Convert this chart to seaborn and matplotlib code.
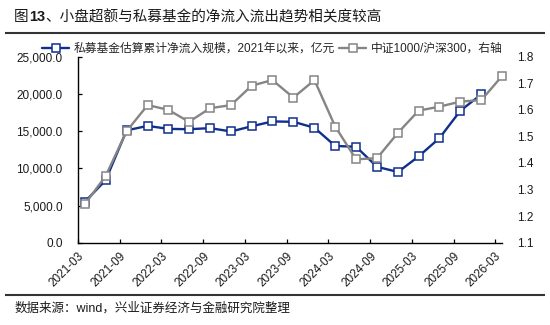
import matplotlib
matplotlib.use("Agg")
import matplotlib.pyplot as plt
import seaborn as sns
import pandas as pd
from matplotlib.lines import Line2D
from matplotlib.ticker import FuncFormatter, MultipleLocator

# ---- data ----
dates = ["2021-03-31", "2021-06-30", "2021-09-30", "2021-12-31",
         "2022-03-31", "2022-06-30", "2022-09-30", "2022-12-31",
         "2023-03-31", "2023-06-30", "2023-09-30", "2023-12-31",
         "2024-03-31", "2024-06-30", "2024-09-30", "2024-12-31",
         "2025-03-31", "2025-06-30", "2025-09-30", "2025-12-31",
         "2026-03-31"]
flow = [5500, 8400, 15100, 15700, 15300, 15250, 15400, 14950, 15650, 16300,
        16250, 15450, 13000, 12900, 10200, 9500, 11600, 14050, 17750, 19950]
ratio = [1.245, 1.351, 1.520, 1.618, 1.600, 1.555, 1.606, 1.618, 1.691, 1.712,
         1.646, 1.712, 1.537, 1.414, 1.418, 1.514, 1.597, 1.612, 1.631, 1.637,
         1.727]
tick_labels = ["2021-03", "2021-09", "2022-03", "2022-09", "2023-03", "2023-09",
               "2024-03", "2024-09", "2025-03", "2025-09", "2026-03"]
label_flow = "私募基金估算累计净流入规模，2021年以来，亿元"
label_ratio = "中证1000/沪深300，右轴"

BLUE = "#0F2F8C"
GRAY = "#858585"
TXT = "#1a1a1a"

sns.set_style("white")
plt.rcParams["font.family"] = ["Liberation Sans", "Noto Sans CJK SC", "DejaVu Sans"]

df1 = pd.DataFrame({"date": pd.to_datetime(dates[:len(flow)]), "flow": flow})
df2 = pd.DataFrame({"date": pd.to_datetime(dates), "ratio": ratio})

W, H = 550, 325
fig = plt.figure(figsize=(W / 100, H / 100), dpi=100)
ax = fig.add_axes([78 / W, 1 - 242.7 / H, (502 - 78) / W, (242.7 - 56.7) / H])
ax2 = ax.twinx()

MS = 6.0
sns.lineplot(data=df1, x="date", y="flow", ax=ax, color=BLUE, linewidth=1.7,
             marker="s", markersize=MS, markerfacecolor="white",
             markeredgecolor=BLUE, markeredgewidth=1.1, clip_on=False, legend=False)
sns.lineplot(data=df2, x="date", y="ratio", ax=ax2, color=GRAY, linewidth=1.7,
             marker="s", markersize=MS, markerfacecolor="white",
             markeredgecolor=GRAY, markeredgewidth=1.1, clip_on=False, legend=False)

# axes limits / ticks
ax.set_xlim(pd.Timestamp("2021-03-01"), pd.Timestamp("2026-03-31"))
ax.set_ylim(0, 25000)
ax.yaxis.set_major_locator(MultipleLocator(5000))
ax.yaxis.set_major_formatter(FuncFormatter(lambda v, p: f"{v:,.1f}"))
ax2.set_ylim(1.1, 1.8)
ax2.yaxis.set_major_locator(MultipleLocator(0.1))
ax2.yaxis.set_major_formatter(FuncFormatter(lambda v, p: f"{v:.1f}"))

ticks = [pd.Timestamp(t + "-01") for t in tick_labels]
ax.set_xticks(ticks)
ax.set_xticklabels(tick_labels, rotation=45, ha="right", rotation_mode="anchor")
ax.set_xlabel("")
ax.set_ylabel("")
ax2.set_ylabel("")

for sp in ["top", "right"]:
    ax.spines[sp].set_visible(False)
for sp in ax2.spines.values():
    sp.set_visible(False)
ax.spines["left"].set_color("black")
ax.spines["bottom"].set_color("black")
ax.spines["left"].set_linewidth(1.0)
ax.spines["bottom"].set_linewidth(1.0)

ax.tick_params(axis="x", direction="in", length=3, width=0.9, colors="black",
               labelcolor=TXT, labelsize=8.5, pad=5, bottom=True)
ax.tick_params(axis="y", direction="in", length=3, width=0.9, colors="black",
               labelcolor=TXT, labelsize=8.5, pad=11, left=True)
ax2.tick_params(axis="y", length=0, labelcolor=TXT, labelsize=8.5, pad=11)

# legend
h1 = Line2D([], [], color=BLUE, lw=1.7, marker="s", markersize=MS,
            markerfacecolor="white", markeredgecolor=BLUE, markeredgewidth=1.1)
h2 = Line2D([], [], color=GRAY, lw=1.7, marker="s", markersize=MS,
            markerfacecolor="white", markeredgecolor=GRAY, markeredgewidth=1.1)
fig.legend([h1, h2], [label_flow, label_ratio], loc="center left",
           bbox_to_anchor=(42 / W, 1 - 49 / H), ncol=2, frameon=False,
           fontsize=8.5, handlelength=2.3, handletextpad=0.35,
           columnspacing=0.4, borderpad=0, borderaxespad=0)

# decorative rules, attached to the main axes but in figure coordinates
for yy in (33, 295):
    rule = Line2D([5 / W, 545 / W], [1 - yy / H, 1 - yy / H], color="#333333",
                  lw=1.5, transform=fig.transFigure, clip_on=False,
                  solid_capstyle="butt", zorder=30)
    ax.add_line(rule)
    rule.set_transform(fig.transFigure)

# title in pieces ("13" bold)
fig.canvas.draw()
renderer = fig.canvas.get_renderer()
x = 14 / W
ty = 1 - 17 / H
pieces = [("图", "normal"), ("13", "bold"), ("、小盘超额与私募基金的净流入流出趋势相关度较高", "normal")]
for s, w in pieces:
    t = fig.text(x, ty, s, fontsize=10.5, fontweight=w, color=TXT, va="center", ha="left",
                 family=["Liberation Sans", "Noto Sans CJK SC"])
    bb = t.get_window_extent(renderer)
    x = bb.x1 / W

fig.text(15 / W, 1 - 308 / H, "数据来源：wind，兴业证券经济与金融研究院整理", fontsize=9,
         color=TXT, va="center", ha="left")

fig.savefig("out.png", dpi=100)
